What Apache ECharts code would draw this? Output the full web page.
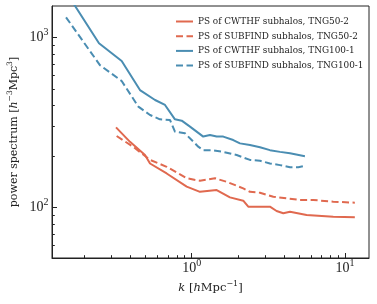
<!DOCTYPE html>
<html>
<head>
<meta charset="utf-8">
<script src="https://cdn.jsdelivr.net/npm/echarts@6/dist/echarts.min.js"></script>
<style>
html,body{margin:0;padding:0;background:#fff;}
#chart{width:377px;height:304px;}
</style>
</head>
<body>
<div id="chart"></div>
<script>
// ---- data ----
const seriesNames = [
  'PS of CWTHF subhalos, TNG50-2',
  'PS of SUBFIND subhalos, TNG50-2',
  'PS of CWTHF subhalos, TNG100-1',
  'PS of SUBFIND subhalos, TNG100-1'
];
const kCwthf50 = [0.321, 0.396, 0.496, 0.535, 0.687, 0.928, 1.133, 1.456, 1.777, 2.17, 2.34, 3.24, 3.58, 3.96, 4.38, 5.62, 8.39, 11.6];
const pCwthf50 = [297, 244, 204, 182, 159, 133, 124, 127, 115, 110, 101.4, 101.4, 95.6, 92.7, 94.7, 90.6, 88.5, 87.8];
const kSubfind50 = [0.324, 0.416, 0.535, 0.687, 0.928, 1.133, 1.42, 1.69, 2.17, 2.40, 2.79, 3.41, 4.17, 5.09, 6.21, 8.39, 11.6];
const pSubfind50 = [264, 228, 191, 174, 149, 144, 149, 142, 130, 124, 122.5, 116, 113.5, 111, 111, 108.5, 107];
const kCwthf100 = [0.1515, 0.2485, 0.3495, 0.460, 0.577, 0.670, 0.778, 0.861, 0.975, 1.19, 1.316, 1.456, 1.607, 1.867, 2.066, 2.40, 2.79, 3.24, 3.77, 4.38, 5.48];
const pCwthf100 = [1860, 927, 729, 492, 430, 402, 331, 325, 300, 262, 268, 262, 262, 250, 239, 234, 227, 218, 213, 209, 201];
const kSubfind100 = [0.1515, 0.252, 0.3495, 0.449, 0.535, 0.621, 0.722, 0.778, 0.904, 1.104, 1.19, 1.35, 1.607, 1.966, 2.40, 2.79, 3.24, 3.77, 4.38, 4.96, 5.48];
const pSubfind100 = [1318, 690, 556, 393, 351, 331, 328, 280, 274, 228.5, 218, 218, 213, 204, 191, 189, 182, 178, 173, 173, 176.6];

const xMajorTicks = [1, 10];
const xMinorTicks = [0.2, 0.3, 0.4, 0.5, 0.6, 0.7, 0.8, 0.9, 2, 3, 4, 5, 6, 7, 8, 9];
const yMajorTicks = [100, 1000];
const yMinorTicks = [60, 70, 80, 90, 200, 300, 400, 500, 600, 700, 800, 900];
const xRange = [0.1227, 14.35];
const yRange = [50.6, 1536];

// ---- styling ----
const RED = '#e0694f';
const BLUE = '#4a8db2';
const FONT = 'DejaVu Serif';
const NUMFONT = 'Liberation Serif';
const AXIS_COLOR = '#222';
const DASH = [7, 3.5];

function pairs(xs, ys) { return xs.map((x, i) => [x, ys[i]]); }
function powLabel(v) {
  const e = Math.round(Math.log10(v));
  return '{b|10}{sup|' + e + '}';
}
const labelRich = {
  b: { fontSize: 14, fontFamily: NUMFONT, color: '#222', lineHeight: 20 },
  sup: { fontSize: 10, fontFamily: NUMFONT, color: '#222', lineHeight: 10, verticalAlign: 'top' }
};

const chart = echarts.init(document.getElementById('chart'), null, { renderer: 'canvas' });

const seriesDefs = [
  { name: seriesNames[0], data: pairs(kCwthf50, pCwthf50), color: RED, type: 'solid' },
  { name: seriesNames[1], data: pairs(kSubfind50, pSubfind50), color: RED, type: DASH },
  { name: seriesNames[2], data: pairs(kCwthf100, pCwthf100), color: BLUE, type: 'solid' },
  { name: seriesNames[3], data: pairs(kSubfind100, pSubfind100), color: BLUE, type: DASH }
];

const nameRich = {
  t: { fontFamily: FONT, fontSize: 11.5, color: '#222', lineHeight: 16 },
  i: { fontStyle: 'italic', fontFamily: FONT, fontSize: 11.5, color: '#222', lineHeight: 16 },
  sup: { fontSize: 8, fontFamily: FONT, color: '#222', lineHeight: 9, verticalAlign: 'top' }
};
const yNameRich = {
  t: { fontFamily: FONT, fontSize: 11, color: '#222', lineHeight: 16 },
  i: { fontStyle: 'italic', fontFamily: FONT, fontSize: 11, color: '#222', lineHeight: 16 },
  sup: { fontSize: 7.5, fontFamily: FONT, color: '#222', lineHeight: 9, verticalAlign: 'top' }
};

const option = {
  animation: false,
  backgroundColor: '#fff',
  grid: {
    left: 52, right: 8, top: 6, bottom: 46,
    containLabel: false, outerBoundsMode: 'none',
    show: true, borderColor: AXIS_COLOR, borderWidth: 1, backgroundColor: 'transparent'
  },
  legend: {
    orient: 'vertical',
    left: 170, top: 11,
    itemWidth: 17, itemHeight: 11, itemGap: 3.7,
    data: seriesNames,
    itemStyle: { opacity: 0 },
    textStyle: { fontFamily: FONT, fontSize: 8.9, color: '#222', lineHeight: 11 }
  },
  xAxis: [
    {
      type: 'log', logBase: 10, min: xRange[0], max: xRange[1],
      name: '{i|k}{t| [}{i|h}{t|Mpc}{sup|−1}{t|]}',
      nameLocation: 'middle', nameGap: 22, nameMoveOverlap: false,
      nameTextStyle: { fontFamily: FONT, fontSize: 11.5, color: '#222', rich: nameRich },
      axisLine: { show: true, lineStyle: { color: AXIS_COLOR, width: 1 } },
      axisTick: { show: true, inside: true, length: 5, customValues: xMajorTicks, lineStyle: { color: AXIS_COLOR } },
      axisLabel: { show: true, customValues: xMajorTicks, formatter: powLabel, color: '#222', margin: 0, rich: labelRich },
      splitLine: { show: false }, minorTick: { show: false }
    },
    {
      type: 'log', logBase: 10, min: xRange[0], max: xRange[1], position: 'bottom',
      axisLine: { show: false },
      axisTick: { show: true, inside: true, length: 2.8, customValues: xMinorTicks, lineStyle: { color: AXIS_COLOR, width: 1 } },
      axisLabel: { show: false },
      splitLine: { show: false }
    }
  ],
  yAxis: [
    {
      type: 'log', logBase: 10, min: yRange[0], max: yRange[1],
      name: '{t|power spectrum [}{i|h}{sup|−3}{t|Mpc}{sup|3}{t|]}',
      nameLocation: 'middle', nameGap: 30, nameMoveOverlap: false,
      nameTextStyle: { fontFamily: FONT, fontSize: 11, color: '#222', rich: yNameRich },
      axisLine: { show: true, lineStyle: { color: AXIS_COLOR, width: 1 } },
      axisTick: { show: true, inside: true, length: 5, customValues: yMajorTicks, lineStyle: { color: AXIS_COLOR } },
      axisLabel: { show: true, customValues: yMajorTicks, formatter: powLabel, color: '#222', margin: 3.5, rich: labelRich },
      splitLine: { show: false }, minorTick: { show: false }
    },
    {
      type: 'log', logBase: 10, min: yRange[0], max: yRange[1], position: 'left',
      axisLine: { show: false },
      axisTick: { show: true, inside: true, length: 2.8, customValues: yMinorTicks, lineStyle: { color: AXIS_COLOR, width: 1 } },
      axisLabel: { show: false },
      splitLine: { show: false }
    }
  ],
  series: seriesDefs.map(s => ({
    name: s.name,
    type: 'line',
    xAxisIndex: 0, yAxisIndex: 0,
    data: s.data,
    symbol: 'none',
    showSymbol: false,
    smooth: false,
    clip: true,
    color: s.color,
    lineStyle: { color: s.color, width: 2, type: s.type },
    itemStyle: { color: s.color }
  }))
};

chart.setOption(option);
</script>
</body>
</html>
